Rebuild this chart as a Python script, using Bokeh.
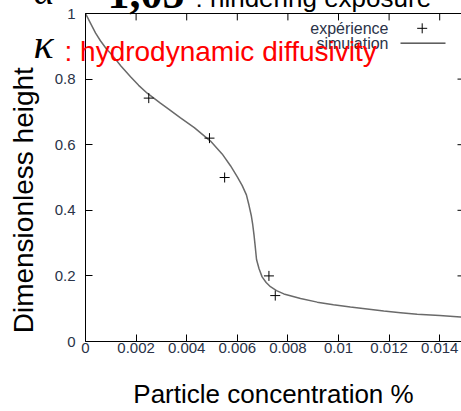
import math
from bokeh.plotting import figure
from bokeh.models import Range1d, FixedTicker
from bokeh.core.properties import value
from bokeh.embed import file_html
from bokeh.resources import INLINE

# ---- data ----
curve_x = [0.0, 0.0001, 0.0002, 0.0004, 0.00059, 0.0008, 0.00112, 0.0014, 0.00178, 0.0021,
           0.00244, 0.00296, 0.0033, 0.003755, 0.0043, 0.00494, 0.0054, 0.00573, 0.006,
           0.00619, 0.00636, 0.00646, 0.00655, 0.00661, 0.00666, 0.0067, 0.00676, 0.00686,
           0.00698, 0.00714, 0.00731, 0.00755, 0.00784, 0.0085, 0.00916, 0.0098, 0.01047,
           0.01113, 0.01179, 0.01245, 0.01311, 0.0140, 0.01482, 0.0150]
curve_y = [1.0, 0.985, 0.97, 0.94, 0.917, 0.895, 0.867, 0.84, 0.807, 0.781,
           0.757, 0.727, 0.708, 0.682, 0.652, 0.611, 0.572, 0.536, 0.502,
           0.476, 0.447, 0.416, 0.385, 0.356, 0.325, 0.296, 0.25, 0.222,
           0.197, 0.18, 0.167, 0.155, 0.145, 0.131, 0.12, 0.112, 0.105,
           0.099, 0.093, 0.088, 0.083, 0.079, 0.075, 0.074]

exp_x = [0.0025, 0.0049, 0.0055, 0.00725, 0.0075]
exp_y = [0.742, 0.62, 0.50, 0.20, 0.14]

x_ticks = [0, 0.002, 0.004, 0.006, 0.008, 0.01, 0.012, 0.014]
x_tick_labels = ["0", "0.002", "0.004", "0.006", "0.008", "0.01", "0.012", "0.014"]
y_ticks = [0, 0.2, 0.4, 0.6, 0.8, 1.0]
y_tick_labels = ["0", "0.2", "0.4", "0.6", "0.8", "1"]

series_names = ["expérience", "simulation"]
x_title = "Particle concentration %"
y_title = "Dimensionless height"

# ---- layout ----
W, H = 461, 411
LEFT, TOP, BOTTOM = 85, 13, 345          # frame edges in canvas pixels
PX_PER_X = 25300.0
X_MAX = (W - LEFT) / PX_PER_X
PX_PER_Y = float(BOTTOM - TOP)
FONT = "Liberation Sans"
TICK_COLOR = "#2a3348"

px = lambda cx: (cx - LEFT) / PX_PER_X
py = lambda cy: (BOTTOM - cy) / PX_PER_Y

p = figure(width=W, height=H, output_backend="svg", toolbar_location=None,
           x_range=Range1d(0, X_MAX), y_range=Range1d(0, 1),
           min_border_left=LEFT, min_border_right=0, min_border_top=TOP,
           min_border_bottom=H - BOTTOM)
p.outline_line_color = None
p.xgrid.visible = False
p.ygrid.visible = False
p.background_fill_color = "white"
p.border_fill_color = "white"

def style_axis(ax, ticks, labels):
    ax.ticker = FixedTicker(ticks=ticks)
    ax.major_label_overrides = {t: l for t, l in zip(ticks, labels)}
    ax.major_tick_in = 7
    ax.major_tick_out = 0
    ax.minor_tick_in = 0
    ax.minor_tick_out = 0
    ax.major_tick_line_color = "black"
    ax.axis_line_color = "black"
    ax.major_label_text_font = FONT
    ax.major_label_text_color = TICK_COLOR
    ax.major_label_text_font_size = "15px"

xa = p.xaxis[0]
style_axis(xa, x_ticks, x_tick_labels)
xa.major_label_standoff = 1
xa.axis_label = x_title
xa.axis_label_text_font = FONT
xa.axis_label_text_font_style = "normal"
xa.axis_label_text_font_size = "26px"
xa.axis_label_text_color = "black"
xa.axis_label_standoff = 23

ya = p.yaxis[0]
style_axis(ya, y_ticks, y_tick_labels)
ya.major_label_standoff = 10

# mirrored border and ticks (top line with inward ticks, right ticks only)
n = len(x_ticks)
p.line([0, X_MAX], [1, 1], line_color="black", line_width=1, level="overlay")
p.segment(x0=x_ticks, y0=[1] * n, x1=x_ticks, y1=[1 - 7 / PX_PER_Y] * n,
          line_color="black", line_width=1, level="overlay")
m = len(y_ticks)
p.segment(x0=[X_MAX - 4 / PX_PER_X] * m, y0=y_ticks, x1=[X_MAX] * m, y1=y_ticks,
          line_color="black", line_width=1, level="overlay")

# data
p.line(curve_x, curve_y, line_color="#6a6a6a", line_width=1.5)
p.scatter(exp_x, exp_y, marker="cross", size=10, line_color="black", line_width=1)

def txt(cx, cy, s, size, color="black", font=FONT, style="normal", align="left",
        baseline="middle", angle=0.0):
    p.text(x=[px(cx)], y=[py(cy)], text=[s], text_font=value(font),
           text_font_size=value(f"{size}px"), text_font_style=style, text_color=color,
           text_align=align, text_baseline=baseline, angle=angle, level="overlay")

def txt_base(cx, base_y, s, size, **kw):
    # place text so that its alphabetic baseline lands at base_y
    txt(cx, base_y - 0.375 * size, s, size, baseline="alphabetic", **kw)

# gnuplot style key (label then sample)
txt(388, 28, series_names[0], 16, TICK_COLOR, align="right")
txt(388, 43, series_names[1], 16, TICK_COLOR, align="right")
p.scatter([px(421.7)], [py(28)], marker="cross", size=10, line_color="black", line_width=1)
p.line([px(400), px(445)], [py(43)] * 2, line_color="black", line_width=1)

# y title
txt(23, 202, y_title, 28, align="center", angle=math.pi / 2)

# slide overlay texts
txt_base(33, 60, "κ", 42, font="Liberation Serif", style="italic")
txt_base(64, 61.7, ": hydrodynamic diffusivity", 28, color="#ff0000")
txt_base(33, 5, "α", 40, font="Liberation Serif", style="italic")
txt_base(107, 9, "1,05", 44, font="Liberation Serif", style="bold")
txt_base(195, 6.7, ": hindering exposure", 26)

open("out.html", "w").write(file_html(p, INLINE))
